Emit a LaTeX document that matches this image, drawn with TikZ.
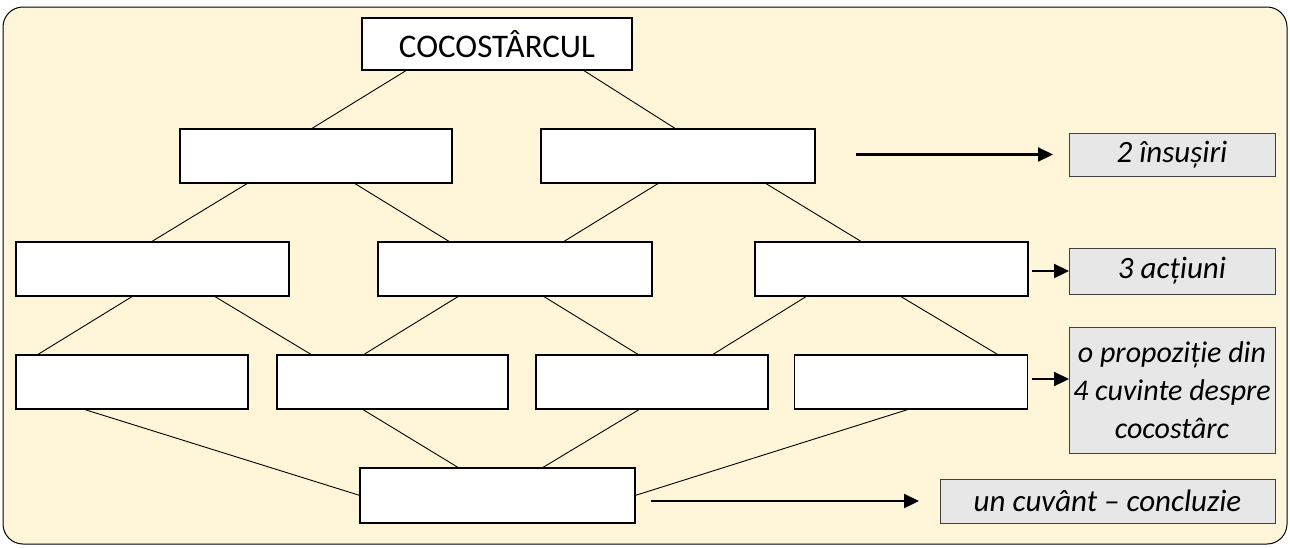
\documentclass[tikz,border=0pt]{standalone}
\usepackage{fontspec}
\setmainfont{Carlito}
\usetikzlibrary{arrows.meta,calc}
\definecolor{cream}{RGB}{255,245,216}
\definecolor{lblgray}{RGB}{231,231,231}
\begin{document}
\begin{tikzpicture}[x=1pt,y=-1pt,
  box/.style={draw=black,line width=1.6pt,fill=white,minimum height=54pt,inner sep=0pt,outer sep=0pt},
  lbl/.style={draw=black!75,line width=1pt,fill=lblgray,inner sep=0pt,outer sep=0pt,font=\fontsize{31}{38}\selectfont\itshape,align=center},
  link/.style={line width=0.9pt},
  arr/.style={line width=2.2pt,-{Triangle[length=15pt,width=14pt]}}]
\useasboundingbox (0,0) rectangle (1290,547);
\draw[fill=cream,line width=1pt,rounded corners=20pt] (3,7) rectangle (1287,544);
% boxes
\node[box,minimum width=270pt,minimum height=52pt,font=\fontsize{33}{38}\selectfont] (top) at (497,44) {COCOSTÂRCUL};
\node[box,minimum width=272pt] (A1) at (316,156) {};
\node[box,minimum width=274pt] (A2) at (678,156) {};
\node[box,minimum width=273pt] (B1) at (152.5,269) {};
\node[box,minimum width=274pt] (B2) at (515,269) {};
\node[box,minimum width=273pt] (B3) at (891.5,269) {};
\node[box,minimum width=232pt] (C1) at (132,382) {};
\node[box,minimum width=231pt] (C2) at (392.5,382) {};
\node[box,minimum width=232pt] (C3) at (652,382) {};
\node[box,minimum width=233pt] (C4) at (911,382) {};
\node[box,minimum width=275pt,minimum height=55pt] (D) at (497.5,495.5) {};
% labels
\node[lbl,minimum width=206pt,minimum height=43pt] (L1) at (1172,154.5) {2 însușiri};
\node[lbl,minimum width=206pt,minimum height=46pt] (L2) at (1172,271) {3 acțiuni};
\node[lbl,minimum width=206pt,minimum height=126pt,font=\fontsize{30}{38}\selectfont\itshape] (L3) at (1172,390) {o propoziție din\\4 cuvinte despre\\cocostârc};
\node[lbl,minimum width=335pt,minimum height=44pt] (L4) at (1107.5,501) {un cuvânt – concluzie};
% connectors
\draw[link] ($(top.south west)+(45pt,0pt)$) -- ($(A1.north west)+(131pt,0pt)$);
\draw[link] ($(top.south west)+(221pt,0pt)$) -- ($(A2.north west)+(135pt,0pt)$);
\draw[link] ($(A1.south west)+(68pt,0pt)$) -- ($(B1.north west)+(135pt,0pt)$);
\draw[link] ($(A1.south west)+(174pt,0pt)$) -- ($(B2.north west)+(72pt,0pt)$);
\draw[link] ($(A2.south west)+(118pt,0pt)$) -- ($(B2.north west)+(185pt,0pt)$);
\draw[link] ($(A2.south west)+(224pt,0pt)$) -- ($(B3.north west)+(107pt,0pt)$);
\draw[link] ($(B1.south west)+(117pt,0pt)$) -- ($(C1.north west)+(21pt,0pt)$);
\draw[link] ($(B1.south west)+(198pt,0pt)$) -- ($(C2.north west)+(35pt,0pt)$);
\draw[link] ($(B2.south west)+(81pt,0pt)$) -- ($(C2.north west)+(86pt,0pt)$);
\draw[link] ($(B2.south west)+(165pt,0pt)$) -- ($(C3.north west)+(103pt,0pt)$);
\draw[link] ($(B3.south west)+(52pt,0pt)$) -- ($(C3.north west)+(176pt,0pt)$);
\draw[link] ($(B3.south west)+(145pt,0pt)$) -- ($(C4.north west)+(204pt,0pt)$);
\draw[link] ($(C1.south west)+(67pt,0pt)$) -- (D.west);
\draw[link] ($(C2.south west)+(85pt,0pt)$) -- ($(D.north west)+(99pt,0pt)$);
\draw[link] ($(C3.south west)+(104pt,0pt)$) -- ($(D.north west)+(182pt,0pt)$);
\draw[link] ($(C4.south west)+(115pt,0pt)$) -- (D.east);
% arrows
\coordinate (a1) at (856,154.5);
\coordinate (b3e) at ($(B3.east)+(4pt,0pt)$);
\coordinate (c4e) at ($(C4.east)+(4pt,3pt)$);
\coordinate (de) at ($(D.east)+(16pt,0pt)$);
\draw[arr] (a1) -- ([xshift=-16pt]L1.west);
\draw[arr] (b3e |- L2.west) -- (L2.west);
\draw[arr] (c4e) -- (c4e -| L3.west);
\draw[arr] (de |- L4.west) -- ([xshift=-21pt]L4.west);
\end{tikzpicture}
\end{document}
